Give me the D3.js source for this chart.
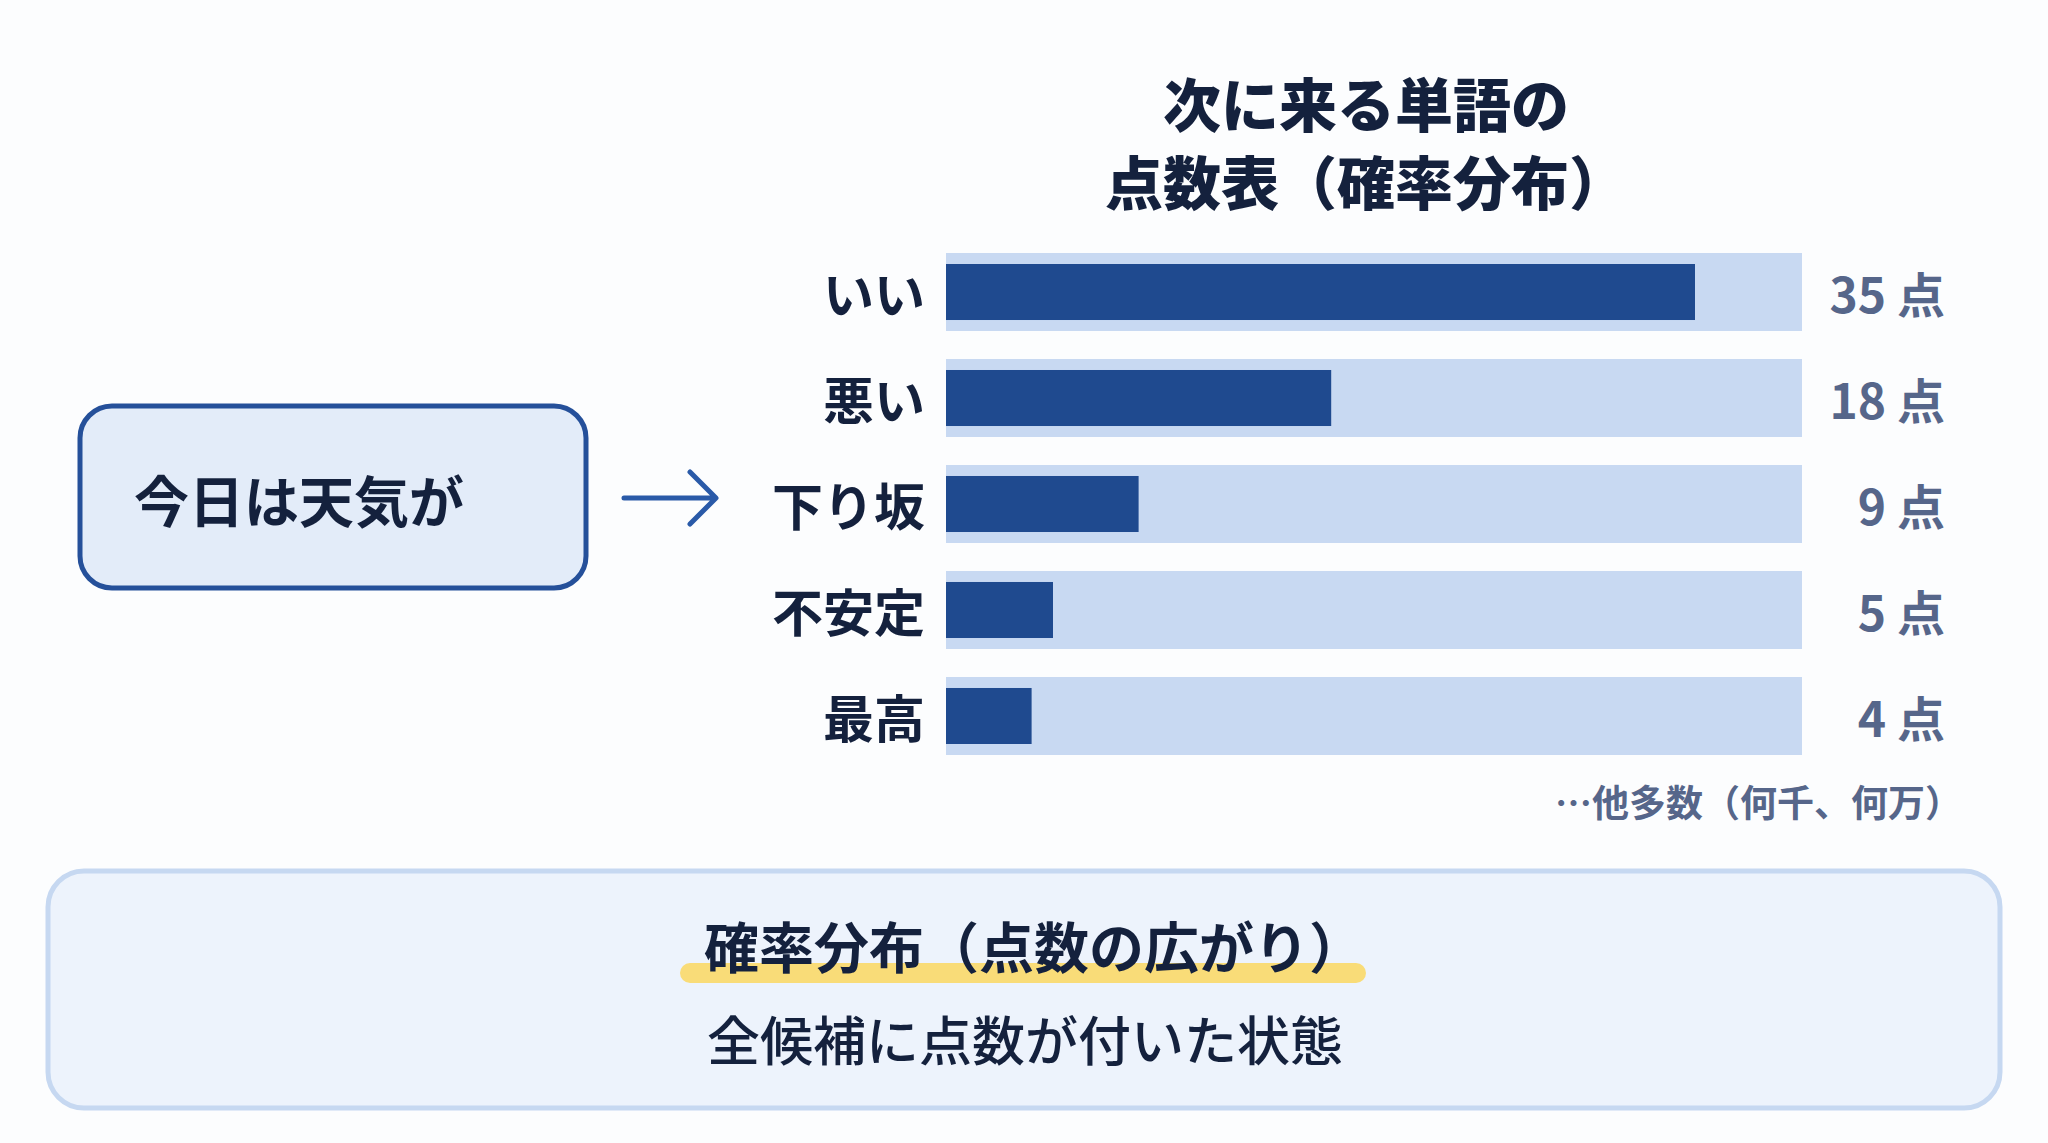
<!DOCTYPE html>
<html lang="ja">
<head>
  <meta charset="UTF-8">
  <title>next-word-scores</title>
  <script src="https://cdn.jsdelivr.net/npm/d3@7"></script>
  <style>
    html, body { margin: 0; padding: 0; background: #fcfdfe; }
    svg { display: block; font-family: "Noto Sans CJK JP", "Noto Sans", sans-serif; }
  </style>
</head>
<body>
<script>
// data
let categories = ['いい', '悪い', '下り坂', '不安定', '最高'];
let scores = [35, 18, 9, 5, 4];
let scoreMax = 40;
let unit = '点';
let titleLines = ['次に来る単語の', '点数表（確率分布）'];
let promptText = '今日は天気が';
let noteText = '…他多数（何千、何万）';
let summaryTitle = '確率分布（点数の広がり）';
let summaryText = '全候補に点数が付いた状態';

let width = 2048;
let height = 1143;
let dark = '#14213d';
let muted = '#56668a';
let barColor = '#1f4a8f';
let trackColor = '#c8d9f2';

let svg = d3.select('body')
  .append('svg')
  .attr('width', width)
  .attr('height', height);

let x = d3.scaleLinear()
  .domain([0, scoreMax])
  .range([946, 1802]);

let y = d3.scaleBand()
  .domain(categories)
  .range([253, 755])
  .paddingInner(0.264);

let rows = categories.map(function (c, i) {
  return {name: c, value: scores[i]};
});

// title
svg.append('g')
  .attr('class', 'title')
  .selectAll('text')
  .data(titleLines)
  .enter()
  .append('text')
  .attr('x', 1366)
  .attr('y', function (d, i) { return 102 + i * 78; })
  .attr('text-anchor', 'middle')
  .attr('dominant-baseline', 'central')
  .attr('font-size', 58)
  .attr('font-weight', 900)
  .attr('fill', dark)
  .text(function (d) { return d; });

// prompt box + arrow
let prompt = svg.append('g').attr('class', 'prompt');
prompt.append('rect')
  .attr('x', 80)
  .attr('y', 406)
  .attr('width', 506)
  .attr('height', 182)
  .attr('rx', 32)
  .attr('fill', '#e3ecf9')
  .attr('stroke', '#25509a')
  .attr('stroke-width', 5);
prompt.append('text')
  .attr('x', 134)
  .attr('y', 498)
  .attr('dominant-baseline', 'central')
  .attr('font-size', 55)
  .attr('font-weight', 700)
  .attr('fill', dark)
  .text(promptText);
prompt.append('path')
  .attr('d', 'M624,498 H714 M690,472 L716,498 L690,524')
  .attr('fill', 'none')
  .attr('stroke', '#2a5aa8')
  .attr('stroke-width', 5)
  .attr('stroke-linecap', 'round')
  .attr('stroke-linejoin', 'round');

// bars
let body = svg.append('g').attr('class', 'bars');

body.selectAll('rect.track')
  .data(rows)
  .enter()
  .append('rect')
  .attr('class', 'track')
  .attr('x', x(0))
  .attr('y', function (d) { return y(d.name); })
  .attr('width', x(scoreMax) - x(0))
  .attr('height', y.bandwidth())
  .attr('fill', trackColor);

body.selectAll('rect.bar')
  .data(rows)
  .enter()
  .append('rect')
  .attr('class', 'bar')
  .attr('x', x(0))
  .attr('y', function (d) { return y(d.name) + 11; })
  .attr('width', function (d) { return x(d.value) - x(0); })
  .attr('height', y.bandwidth() - 22)
  .attr('fill', barColor);

body.selectAll('text.cat')
  .data(rows)
  .enter()
  .append('text')
  .attr('class', 'cat')
  .attr('x', 925)
  .attr('y', function (d) { return y(d.name) + y.bandwidth() / 2; })
  .attr('text-anchor', 'end')
  .attr('dominant-baseline', 'central')
  .attr('font-size', 51)
  .attr('font-weight', 700)
  .attr('fill', dark)
  .text(function (d) { return d.name; });

body.selectAll('text.val')
  .data(rows)
  .enter()
  .append('text')
  .attr('class', 'val')
  .attr('x', 1945)
  .attr('y', function (d) { return y(d.name) + y.bandwidth() / 2; })
  .attr('text-anchor', 'end')
  .attr('dominant-baseline', 'central')
  .attr('font-size', 48)
  .attr('font-weight', 700)
  .attr('fill', muted)
  .text(function (d) { return d.value + ' ' + unit; });

body.append('text')
  .attr('x', 1962)
  .attr('y', 801)
  .attr('text-anchor', 'end')
  .attr('dominant-baseline', 'central')
  .attr('font-size', 37)
  .attr('font-weight', 700)
  .attr('fill', muted)
  .text(noteText);

// summary box
let summary = svg.append('g').attr('class', 'summary');
summary.append('rect')
  .attr('x', 48)
  .attr('y', 871)
  .attr('width', 1952)
  .attr('height', 237)
  .attr('rx', 36)
  .attr('fill', '#edf3fc')
  .attr('stroke', '#c6d8f1')
  .attr('stroke-width', 5);
summary.append('rect')
  .attr('x', 680)
  .attr('y', 963)
  .attr('width', 686)
  .attr('height', 20)
  .attr('rx', 10)
  .attr('fill', '#f9dc78');
summary.append('text')
  .attr('x', 1034)
  .attr('y', 944)
  .attr('text-anchor', 'middle')
  .attr('dominant-baseline', 'central')
  .attr('font-size', 55)
  .attr('font-weight', 700)
  .attr('fill', dark)
  .text(summaryTitle);
summary.append('text')
  .attr('x', 1025)
  .attr('y', 1038)
  .attr('text-anchor', 'middle')
  .attr('dominant-baseline', 'central')
  .attr('font-size', 53)
  .attr('font-weight', 500)
  .attr('fill', dark)
  .text(summaryText);
</script>
</body>
</html>
